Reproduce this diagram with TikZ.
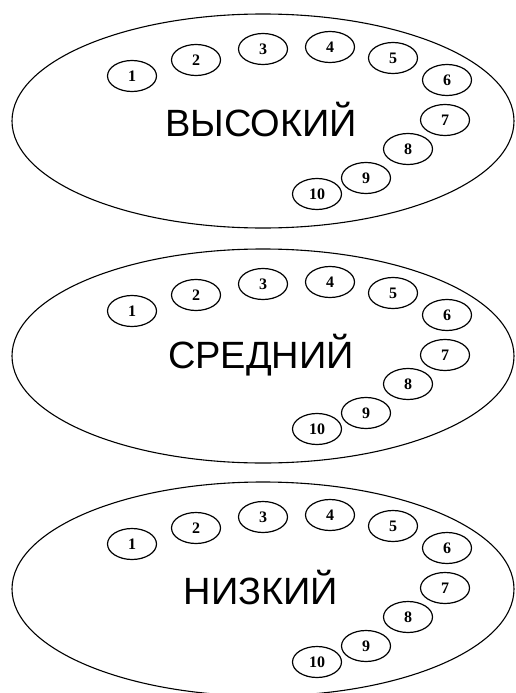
\documentclass[tikz,border=0pt]{standalone}
\usepackage{fontspec}
\setmainfont{Liberation Serif}
\newfontfamily\labelfont{Liberation Sans}
\usetikzlibrary{shapes.geometric}
\tikzset{
  bigoval/.style={draw, line width=1.1pt},
  num/.style={draw, ellipse, line width=1.2pt, minimum width=49pt, minimum height=31pt, inner sep=0pt, font=\fontsize{16}{16}\selectfont\bfseries},
  title/.style={font=\labelfont\fontsize{38}{38}\selectfont, inner sep=0pt}
}
\begin{document}
\begin{tikzpicture}[x=1pt,y=-1pt]
\useasboundingbox (0,0) rectangle (515,693);
\foreach \dy/\word/\id in {0/ВЫСОКИЙ/a, 235/СРЕДНИЙ/b, 468/НИЗКИЙ/c}{
  \begin{scope}[yshift=-\dy pt]
    \draw[bigoval] (263,121) ellipse [x radius=251, y radius=107];
    \node[title] (t\id) at (261,120) {\word};
    \node[num] (\id1) at (132,76) {1};
    \node[num] (\id2) at (196,60) {2};
    \node[num] (\id3) at (263,49) {3};
    \node[num] (\id4) at (330,47) {4};
    \node[num] (\id5) at (393,58) {5};
    \node[num] (\id6) at (447,80) {6};
    \node[num] (\id7) at (445,120) {7};
    \node[num] (\id8) at (408,149) {8};
    \node[num] (\id9) at (366,178) {9};
    \node[num] (\id10) at (317,194) {10};
  \end{scope}
}
\end{tikzpicture}
\end{document}
